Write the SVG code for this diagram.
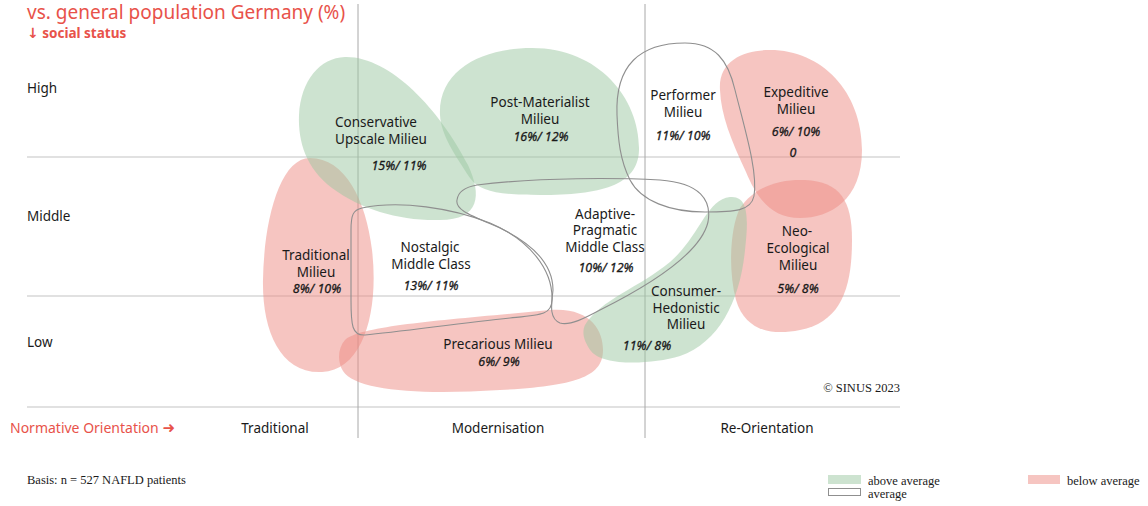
<svg xmlns="http://www.w3.org/2000/svg" width="1148" height="506" viewBox="0 0 1148 506">
<style>
  .lbl { font-family: "Noto Sans", "DejaVu Sans", sans-serif; font-size: 13.5px; fill: #1a1a1a; text-anchor: middle; }
  .pct { font-family: "Noto Sans", "DejaVu Sans", sans-serif; font-size: 12.5px; font-style: italic; fill: #1a1a1a; stroke: #1a1a1a; stroke-width: 0.3; text-anchor: middle; }
  .axis { font-family: "Noto Sans", "DejaVu Sans", sans-serif; font-size: 13.5px; fill: #1a1a1a; }
  .red { font-family: "Noto Sans", "DejaVu Sans", sans-serif; fill: #e8524a; }
  .serif { font-family: "Liberation Serif", serif; font-size: 12.5px; fill: #1a1a1a; }
  .grid { stroke: #c4c4c4; stroke-width: 1.2; fill: none; }
  .vgrid { stroke: #a8a8a8; stroke-width: 1; fill: none; }
  .above { fill: #9bc7a1; fill-opacity: 0.5; stroke: none; }
  .below { fill: #ed8b83; fill-opacity: 0.5; stroke: none; }
  .avg { fill: none; stroke: #8f8f8f; stroke-width: 1.1; }
</style>
<rect width="1148" height="506" fill="#ffffff"/>

<!-- title & axis labels -->
<text class="red" x="27" y="19" font-size="19">vs. general population Germany (%)</text>
<text class="red" x="27" y="38" font-size="13.5" font-weight="bold"><tspan font-family="DejaVu Sans, sans-serif" font-size="14">↓</tspan> social status</text>
<text class="axis" x="27" y="93">High</text>
<text class="axis" x="27" y="221">Middle</text>
<text class="axis" x="27" y="347">Low</text>
<text class="red" x="10" y="433" font-size="14">Normative Orientation <tspan font-family="DejaVu Sans, sans-serif" font-weight="bold" font-size="15">➜</tspan></text>
<text class="lbl" x="275" y="433">Traditional</text>
<text class="lbl" x="498" y="433">Modernisation</text>
<text class="lbl" x="767" y="433">Re-Orientation</text>

<!-- grid -->
<g id="grid">
  <line class="grid" x1="27" y1="157" x2="900" y2="157"/>
  <line class="grid" x1="27" y1="296" x2="900" y2="296"/>
  <line class="grid" x1="27" y1="407" x2="900" y2="407"/>
  <line class="vgrid" x1="358" y1="4" x2="358" y2="438"/>
  <line class="vgrid" x1="645" y1="4" x2="645" y2="438"/>
</g>

<!-- filled milieus -->
<g id="traditional">
  <path class="below" d="M310,158 C345,158 366,200 372,250 C379,310 364,370 322,372 C280,374 262,330 263,280 C264,220 280,158 310,158 Z"/>
</g>
<g id="precarious">
  <path class="below" d="M345,340 C362,325 450,320 550,310 C590,307 603,330 603,350 C603,376 578,386 500,390 C420,395 356,391 343,371 C337,361 338,348 345,340 Z"/>
</g>
<g id="conservative">
  <path class="above" d="M345,57 C390,56 440,110 468,165 C482,195 480,220 440,220 C400,221 362,210 332,188 C306,168 298,142 299,115 C301,80 320,58 345,57 Z"/>
</g>
<g id="postmaterialist">
  <path class="above" d="M440,115 C438,70 482,48 532,48 C600,48 640,100 639,150 C638,186 600,195 540,195 C500,195 480,192 470,178 C455,155 441,135 440,115 Z"/>
</g>
<g id="expeditive">
  <path class="below" d="M720,90 C718,60 745,50 770,50 C822,50 862,92 862,150 C862,200 830,218 800,218 C770,218 756,196 746,172 C731,140 721,115 720,90 Z"/>
</g>
<g id="neoecological">
  <path class="below" d="M740,208 C755,186 780,179 805,180 C840,182 852,200 852,240 C852,290 840,322 800,330 C770,336 745,330 736,300 C728,270 730,228 740,208 Z"/>
</g>
<g id="consumerhedonistic">
  <path class="above" d="M585,325 C600,300 640,287 670,262 C700,236 706,200 730,197 C750,195 748,222 745,250 C740,300 720,342 680,356 C650,365 602,366 591,351 C583,340 582,332 585,325 Z"/>
</g>

<!-- average milieus (outlines) -->
<g id="performer">
  <path class="avg" d="M617,115 C615,65 640,43 685,43 C715,43 728,60 735,90 C745,130 758,172 754,196 C751,211 735,212 705,212 C670,212 641,201 630,180 C620,160 618,140 617,115 Z"/>
</g>
<g id="adaptive">
  <path class="avg" d="M477,185 C540,177 620,178 660,180 C700,183 712,200 708,222 C700,256 640,290 600,310 C585,318 570,326 560,323 C548,318 552,302 553,290 C553,265 535,245 500,228 C470,215 455,210 457,200 C458,192 465,187 477,185 Z"/>
</g>
<g id="nostalgic">
  <path class="avg" d="M362,208 C400,200 452,208 490,223 C530,240 553,270 552,300 C552,315 540,315 510,318 C460,323 400,332 365,335 C352,336 351,325 351,300 L351,230 C351,215 353,210 362,208 Z"/>
</g>

<!-- labels -->
<g id="labels">
  <text class="lbl" x="376" y="127">Conservative</text>
  <text class="lbl" x="381" y="144">Upscale Milieu</text>
  <text class="pct" x="399" y="170">15%/ 11%</text>

  <text class="lbl" x="540" y="107">Post-Materialist</text>
  <text class="lbl" x="540" y="124">Milieu</text>
  <text class="pct" x="541" y="141">16%/ 12%</text>

  <text class="lbl" x="683" y="100">Performer</text>
  <text class="lbl" x="683" y="117">Milieu</text>
  <text class="pct" x="683" y="140">11%/ 10%</text>

  <text class="lbl" x="796" y="97">Expeditive</text>
  <text class="lbl" x="796" y="114">Milieu</text>
  <text class="pct" x="796" y="136">6%/ 10%</text>
  <text class="pct" x="793" y="157">0</text>

  <text class="lbl" x="316" y="260">Traditional</text>
  <text class="lbl" x="316" y="277">Milieu</text>
  <text class="pct" x="317" y="293">8%/ 10%</text>

  <text class="lbl" x="430" y="252">Nostalgic</text>
  <text class="lbl" x="431" y="269">Middle Class</text>
  <text class="pct" x="431" y="290">13%/ 11%</text>

  <text class="lbl" x="605" y="219">Adaptive-</text>
  <text class="lbl" x="605" y="235">Pragmatic</text>
  <text class="lbl" x="605" y="252">Middle Class</text>
  <text class="pct" x="606" y="272">10%/ 12%</text>

  <text class="lbl" x="797" y="236">Neo-</text>
  <text class="lbl" x="798" y="253">Ecological</text>
  <text class="lbl" x="798" y="270">Milieu</text>
  <text class="pct" x="798" y="293">5%/ 8%</text>

  <text class="lbl" x="686" y="296">Consumer-</text>
  <text class="lbl" x="686" y="313">Hedonistic</text>
  <text class="lbl" x="686" y="329">Milieu</text>
  <text class="pct" x="647" y="350">11%/ 8%</text>

  <text class="lbl" x="498" y="349">Precarious Milieu</text>
  <text class="pct" x="499" y="366">6%/ 9%</text>
</g>

<text class="serif" x="900" y="392" text-anchor="end" font-size="12">© SINUS 2023</text>
<text class="serif" x="27" y="484" font-size="12">Basis: n = 527 NAFLD patients</text>

<!-- legend -->
<g id="legend">
  <rect x="828" y="475" width="33" height="9" fill="#cde3d0"/>
  <text class="serif" x="868" y="485">above average</text>
  <rect x="828.5" y="488.5" width="32" height="7" fill="#ffffff" stroke="#8f8f8f" stroke-width="1"/>
  <text class="serif" x="868" y="498">average</text>
  <rect x="1028" y="475" width="32" height="9" fill="#f6c5c1"/>
  <text class="serif" x="1067" y="485">below average</text>
</g>
</svg>
